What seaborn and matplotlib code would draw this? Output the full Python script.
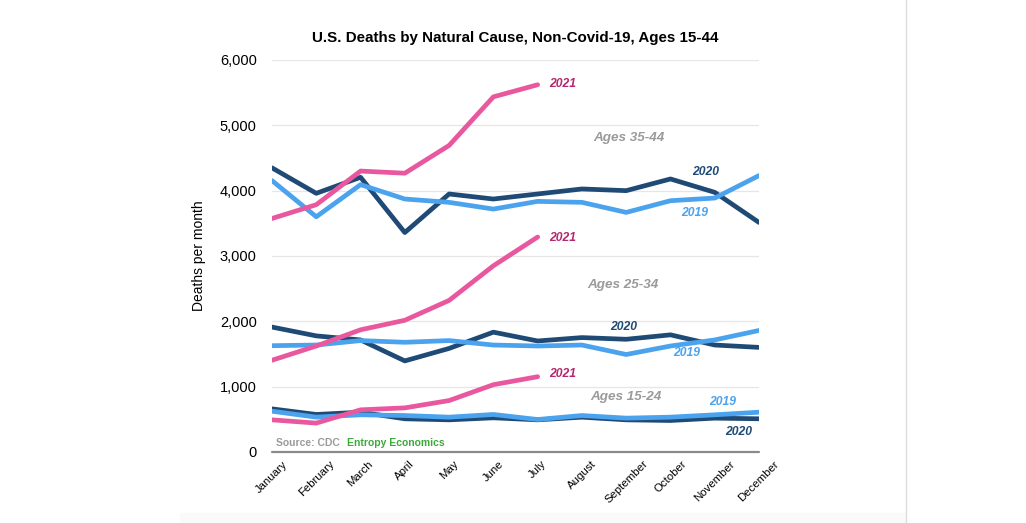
#!/usr/bin/env python3
"""U.S. deaths by natural cause (non-Covid-19), ages 15-44, monthly by year."""

import matplotlib
matplotlib.use("Agg")
import matplotlib.pyplot as plt
import matplotlib.ticker as mticker
from matplotlib.lines import Line2D
import pandas as pd
import seaborn as sns

# ── data ───────────────────────────────────────────────────────────
MONTHS = ["January", "February", "March", "April", "May", "June", "July",
          "August", "September", "October", "November", "December"]

# Ages 35-44
a35_2019 = [4154, 3600, 4092, 3872, 3821, 3718, 3836, 3821, 3667, 3846, 3887, 4231]
a35_2020 = [4349, 3959, 4205, 3359, 3949, 3872, 3949, 4026, 4000, 4179, 3974, 3513]
a35_2021 = [3574, 3785, 4300, 4267, 4692, 5436, 5621]

# Ages 25-34
a25_2019 = [1627, 1637, 1705, 1679, 1705, 1637, 1622, 1637, 1492, 1622, 1715, 1860]
a25_2020 = [1912, 1777, 1715, 1394, 1585, 1834, 1699, 1751, 1725, 1793, 1637, 1601]
a25_2021 = [1404, 1622, 1870, 2016, 2320, 2850, 3290]

# Ages 15-24
a15_2019 = [624, 533, 569, 558, 533, 574, 497, 558, 518, 533, 569, 609]
a15_2020 = [660, 574, 609, 508, 492, 523, 492, 533, 492, 482, 518, 508]
a15_2021 = [492, 442, 645, 675, 787, 1030, 1152]

SERIES = {
    ("Ages 35-44", "2019"): a35_2019,
    ("Ages 35-44", "2020"): a35_2020,
    ("Ages 35-44", "2021"): a35_2021,
    ("Ages 25-34", "2019"): a25_2019,
    ("Ages 25-34", "2020"): a25_2020,
    ("Ages 25-34", "2021"): a25_2021,
    ("Ages 15-24", "2019"): a15_2019,
    ("Ages 15-24", "2020"): a15_2020,
    ("Ages 15-24", "2021"): a15_2021,
}

LINE_COLORS = {"2019": "#4BA3EE", "2020": "#1F4A76", "2021": "#E9589F"}
TEXT_COLORS = {"2019": "#4BA3EE", "2020": "#1F4A76", "2021": "#B5276F"}

records = []
for (age, year), vals in SERIES.items():
    for i, v in enumerate(vals):
        records.append({"age": age, "year": year, "month": i, "deaths": v})
df = pd.DataFrame(records)

# ── plot ───────────────────────────────────────────────────────────
sns.set_style("white")
plt.rcParams["font.family"] = ["Liberation Sans", "DejaVu Sans"]

fig = plt.figure(figsize=(10.26, 5.23), dpi=100)
ax = fig.add_axes([0.2651, 0.1358, 0.4747, 0.7495])

for year in ["2020", "2019", "2021"]:
    sub = df[df["year"] == year]
    sns.lineplot(
        data=sub, x="month", y="deaths", units="age", estimator=None,
        color=LINE_COLORS[year], linewidth=3.4, ax=ax, legend=False,
        solid_joinstyle="round", solid_capstyle="round",
    )

ax.set_xlim(0, 11)
ax.set_ylim(0, 6000)
ax.set_yticks(range(0, 6001, 1000))
ax.yaxis.set_major_formatter(mticker.FuncFormatter(lambda v, _: f"{v:,.0f}"))
ax.set_xticks(range(12))
ax.set_xticklabels(MONTHS, rotation=45, ha="center", fontsize=8.2)
ax.tick_params(axis="y", length=0, pad=11, labelsize=10.5, labelcolor="black")
ax.tick_params(axis="x", length=0, pad=5, labelcolor="black")

for v in range(1000, 6001, 1000):
    ax.axhline(v, color="#E6E6E6", linewidth=0.9, zorder=0)
ax.axhline(0, color="#8A8A8A", linewidth=1.6, zorder=1, clip_on=False)
for s in ax.spines.values():
    s.set_visible(False)

ax.set_xlabel("")
ax.set_ylabel("Deaths per month", fontsize=10, labelpad=10, color="black")
ax.set_title("U.S. Deaths by Natural Cause, Non-Covid-19, Ages 15-44",
             fontsize=10.9, fontweight="bold", pad=13, color="black")

# series labels
lbl = dict(fontsize=8.7, fontweight="bold", fontstyle="italic", va="center")
ax.text(6.25, 5640, "2021", color=TEXT_COLORS["2021"], ha="left", **lbl)
ax.text(9.79, 4292, "2020", color=TEXT_COLORS["2020"], ha="center", **lbl)
ax.text(9.54, 3655, "2019", color=TEXT_COLORS["2019"], ha="center", **lbl)
ax.text(6.25, 3275, "2021", color=TEXT_COLORS["2021"], ha="left", **lbl)
ax.text(7.94, 1909, "2020", color=TEXT_COLORS["2020"], ha="center", **lbl)
ax.text(9.37, 1511, "2019", color=TEXT_COLORS["2019"], ha="center", **lbl)
ax.text(6.25, 1195, "2021", color=TEXT_COLORS["2021"], ha="left", **lbl)
ax.text(10.17, 761, "2019", color=TEXT_COLORS["2019"], ha="center", **lbl)
ax.text(10.54, 311, "2020", color=TEXT_COLORS["2020"], ha="center", **lbl)

grp = dict(fontsize=9.7, fontweight="bold", fontstyle="italic", color="#9A9A9A",
           ha="center", va="center")
ax.text(8.05, 4810, "Ages 35-44", **grp)
ax.text(7.92, 2557, "Ages 25-34", **grp)
ax.text(8.0, 847, "Ages 15-24", **grp)

ax.text(0.09, 140, "Source: CDC", fontsize=7.5, fontweight="bold",
        color="#9A9A9A", ha="left", va="center")
ax.text(1.7, 140, "Entropy Economics", fontsize=7.5, fontweight="bold",
        color="#3AAA3A", ha="left", va="center")

# page furniture: faint divider on the right and pale footer band
fig.add_artist(Line2D([906 / 1026, 906 / 1026], [0, 1], color="#DDDDDD",
                      linewidth=1, transform=fig.transFigure))
fig.patches.append(plt.Rectangle((180 / 1026, 0), (905 - 180) / 1026, 10 / 523,
                                 transform=fig.transFigure, color="#FAFAFA",
                                 zorder=-1))

fig.savefig("out.png", dpi=100)
plt.close(fig)
